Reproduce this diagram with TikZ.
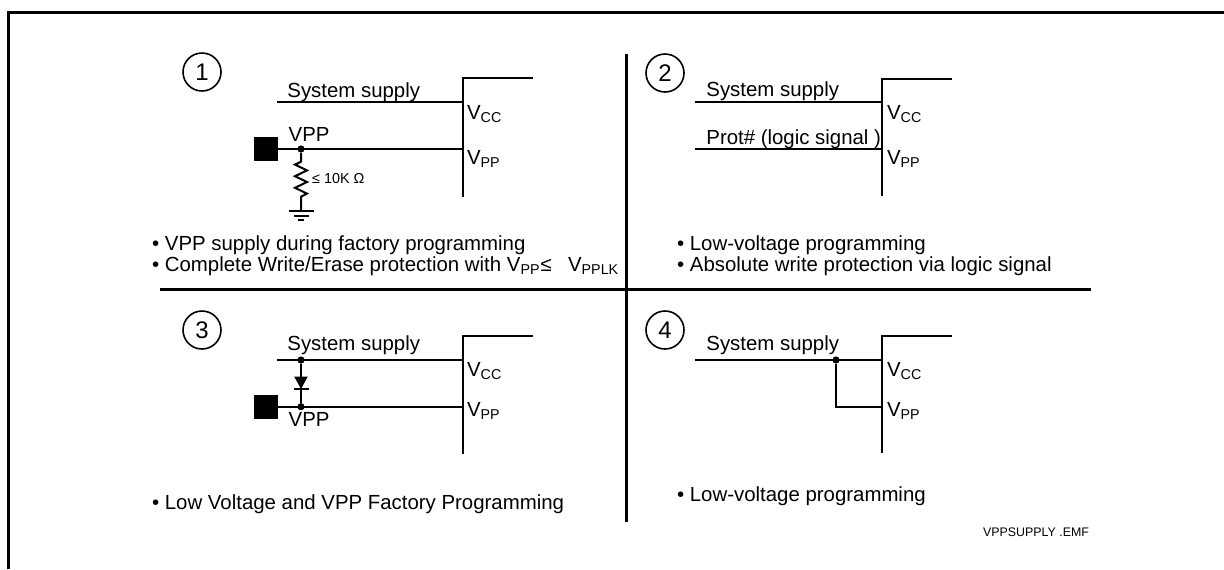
\documentclass[tikz,border=0pt]{standalone}
\usepackage{xcolor}
\usepackage{fontspec}
\setmainfont{Liberation Sans}
\usepackage{tikz}

\tikzset{
  wire/.style={line width=1pt,black},
  divider/.style={line width=1.5pt,black},
  jdot/.style={circle,fill=black,inner sep=0pt,minimum size=3.6pt},
  padbox/.style={rectangle,fill=black,inner sep=0pt,minimum size=12pt},
  txt/.style={anchor=base west,inner sep=0pt,font=\fontsize{10.2}{12}\selectfont},
  smalltxt/.style={anchor=base west,inner sep=0pt,font=\fontsize{6.2}{7}\selectfont},
  numcirc/.style={circle,draw,line width=0.8pt,inner sep=0pt,minimum size=19pt,font=\fontsize{12}{14}\selectfont},
}

\begin{document}
\begin{tikzpicture}[x=0.5pt,y=-0.5pt]
\useasboundingbox (0,0) rectangle (1224,569);
% frame and dividers
\coordinate (fbl) at (8,569); \coordinate (ftl) at (8,12); \coordinate (ftr) at (1224,12);
\draw[divider] (fbl) -- (ftl) -- (ftr);
\coordinate (vtop) at (626,54); \coordinate (vbot) at (626,522);
\coordinate (hleft) at (160,289); \coordinate (hright) at (1091,289);
\draw[divider] (vtop) -- (vbot);
\draw[divider] (hleft) -- (hright);

% (1) VPP pad with pull-down
\node[numcirc] (numA) at (202,72) {1};
\coordinate (icAtr) at (533.3,78); \coordinate (icAtop) at (463.3,78); \coordinate (icAbot) at (463.3,196.7);
\coordinate (ssA) at (277,102.3); \coordinate (vccA) at (463.3,102.3);
\coordinate (vppA) at (463.3,149);
\draw[wire] (icAtr) -- (icAtop) -- (icAbot);
\draw[wire] (ssA) -- (vccA);
\node[padbox] (padA) at (266,149) {};
\node[jdot] (jA) at (301,149) {};
\draw[wire] (padA) -- (vppA);
\coordinate (rAt) at (301,161.7); \coordinate (rAb) at (301,196.7); \coordinate (gA) at (301,211);
\draw[wire,line join=miter] (jA) -- (rAt) -- ++(-6,2.9) -- ++(12,5.8) -- ++(-12,5.8) -- ++(12,5.8)
      -- ++(-12,5.8) -- ++(12,5.8) -- (rAb) -- (gA);
\draw[wire] (gA) ++(-12.5,0) -- ++(25,0);
\draw[wire] (gA) ++(-7.5,4.7) -- ++(15,0);
\draw[wire] (gA) ++(-3,9) -- ++(6,0);
\node[txt] (ssAl) at (287,97) {System supply};
\node[txt] (vppAl) at (288.3,141.7) {VPP};
\node[txt] (vccAl) at (466.7,119) {V\textsubscript{CC}};
\node[txt] (vppAp) at (466.7,164.5) {V\textsubscript{PP}};
\node[smalltxt,font=\fontsize{7.2}{8}\selectfont] (rAl) at (311.7,183) {≤ 10K Ω};
\node[txt] (bA1) at (151.7,250) {\textbullet\ VPP supply during factory programming};
\node[txt] (bA2) at (151.7,271) {\textbullet\ Complete Write/Erase protection with V\textsubscript{PP}≤\hspace{0.8em}V\textsubscript{PPLK}};

% (2) logic signal on VPP
\node[numcirc] (numB) at (665,73) {2};
\coordinate (icBtr) at (951.7,79); \coordinate (icBtop) at (881.7,79); \coordinate (icBbot) at (881.7,196);
\coordinate (ssB) at (695,102.3); \coordinate (vccB) at (881.7,102.3);
\coordinate (prB) at (695,149); \coordinate (vppB) at (881.7,149);
\draw[wire] (icBtr) -- (icBtop) -- (icBbot);
\draw[wire] (ssB) -- (vccB);
\draw[wire] (prB) -- (vppB);
\node[txt] (ssBl) at (706,96.7) {System supply};
\node[txt] (prBl) at (706,144.3) {Prot\# (logic signal )};
\node[txt] (vccBl) at (886.7,119) {V\textsubscript{CC}};
\node[txt] (vppBl) at (886.7,164.5) {V\textsubscript{PP}};
\node[txt] (bB1) at (676.7,250) {\textbullet\ Low-voltage programming};
\node[txt] (bB2) at (676.7,271) {\textbullet\ Absolute write protection via logic signal};

% (3) diode from supply
\node[numcirc] (numC) at (202,330) {3};
\coordinate (icCtr) at (533.3,336); \coordinate (icCtop) at (463.3,336); \coordinate (icCbot) at (463.3,454);
\coordinate (ssC) at (277,360); \coordinate (vccC) at (463.3,360);
\coordinate (vppC) at (463.3,406.7);
\draw[wire] (icCtr) -- (icCtop) -- (icCbot);
\draw[wire] (ssC) -- (vccC);
\node[padbox] (padC) at (266,406.7) {};
\draw[wire] (padC) -- (vppC);
\node[jdot] (jC1) at (301,360) {};
\node[jdot] (jC2) at (301,406.7) {};
\coordinate (dCa) at (301,376.7); \coordinate (dCk) at (301,389);
\draw[wire] (jC1) -- (jC2);
\fill (dCa) ++(-6.7,0) -- ++(13.4,0) -- (dCk) -- cycle;
\draw[wire] (dCk) ++(-7.5,0) -- ++(15,0);
\node[txt] (ssCl) at (287,350) {System supply};
\node[txt] (vppCl) at (288.3,426) {VPP};
\node[txt] (vccCl) at (466.7,376) {V\textsubscript{CC}};
\node[txt] (vppCp) at (466.7,416.5) {V\textsubscript{PP}};
\node[txt] (bC1) at (151.7,509) {\textbullet\ Low Voltage and VPP Factory Programming};

% (4) VPP tied to VCC
\node[numcirc] (numD) at (665,330) {4};
\coordinate (icDtr) at (951.7,336); \coordinate (icDtop) at (881.7,336); \coordinate (icDbot) at (881.7,453.3);
\coordinate (ssD) at (695,360); \coordinate (vccD) at (881.7,360);
\coordinate (bD) at (836,406.7); \coordinate (vppD) at (881.7,406.7);
\draw[wire] (icDtr) -- (icDtop) -- (icDbot);
\draw[wire] (ssD) -- (vccD);
\node[jdot] (jD) at (836,360) {};
\draw[wire] (jD) -- (bD) -- (vppD);
\node[txt] (ssDl) at (706,350) {System supply};
\node[txt] (vccDl) at (886.7,376) {V\textsubscript{CC}};
\node[txt] (vppDl) at (886.7,416.5) {V\textsubscript{PP}};
\node[txt] (bD1) at (676.7,501) {\textbullet\ Low-voltage programming};
\node[smalltxt] (fname) at (982.7,536) {VPPSUPPLY .EMF};
\end{tikzpicture}
\end{document}
